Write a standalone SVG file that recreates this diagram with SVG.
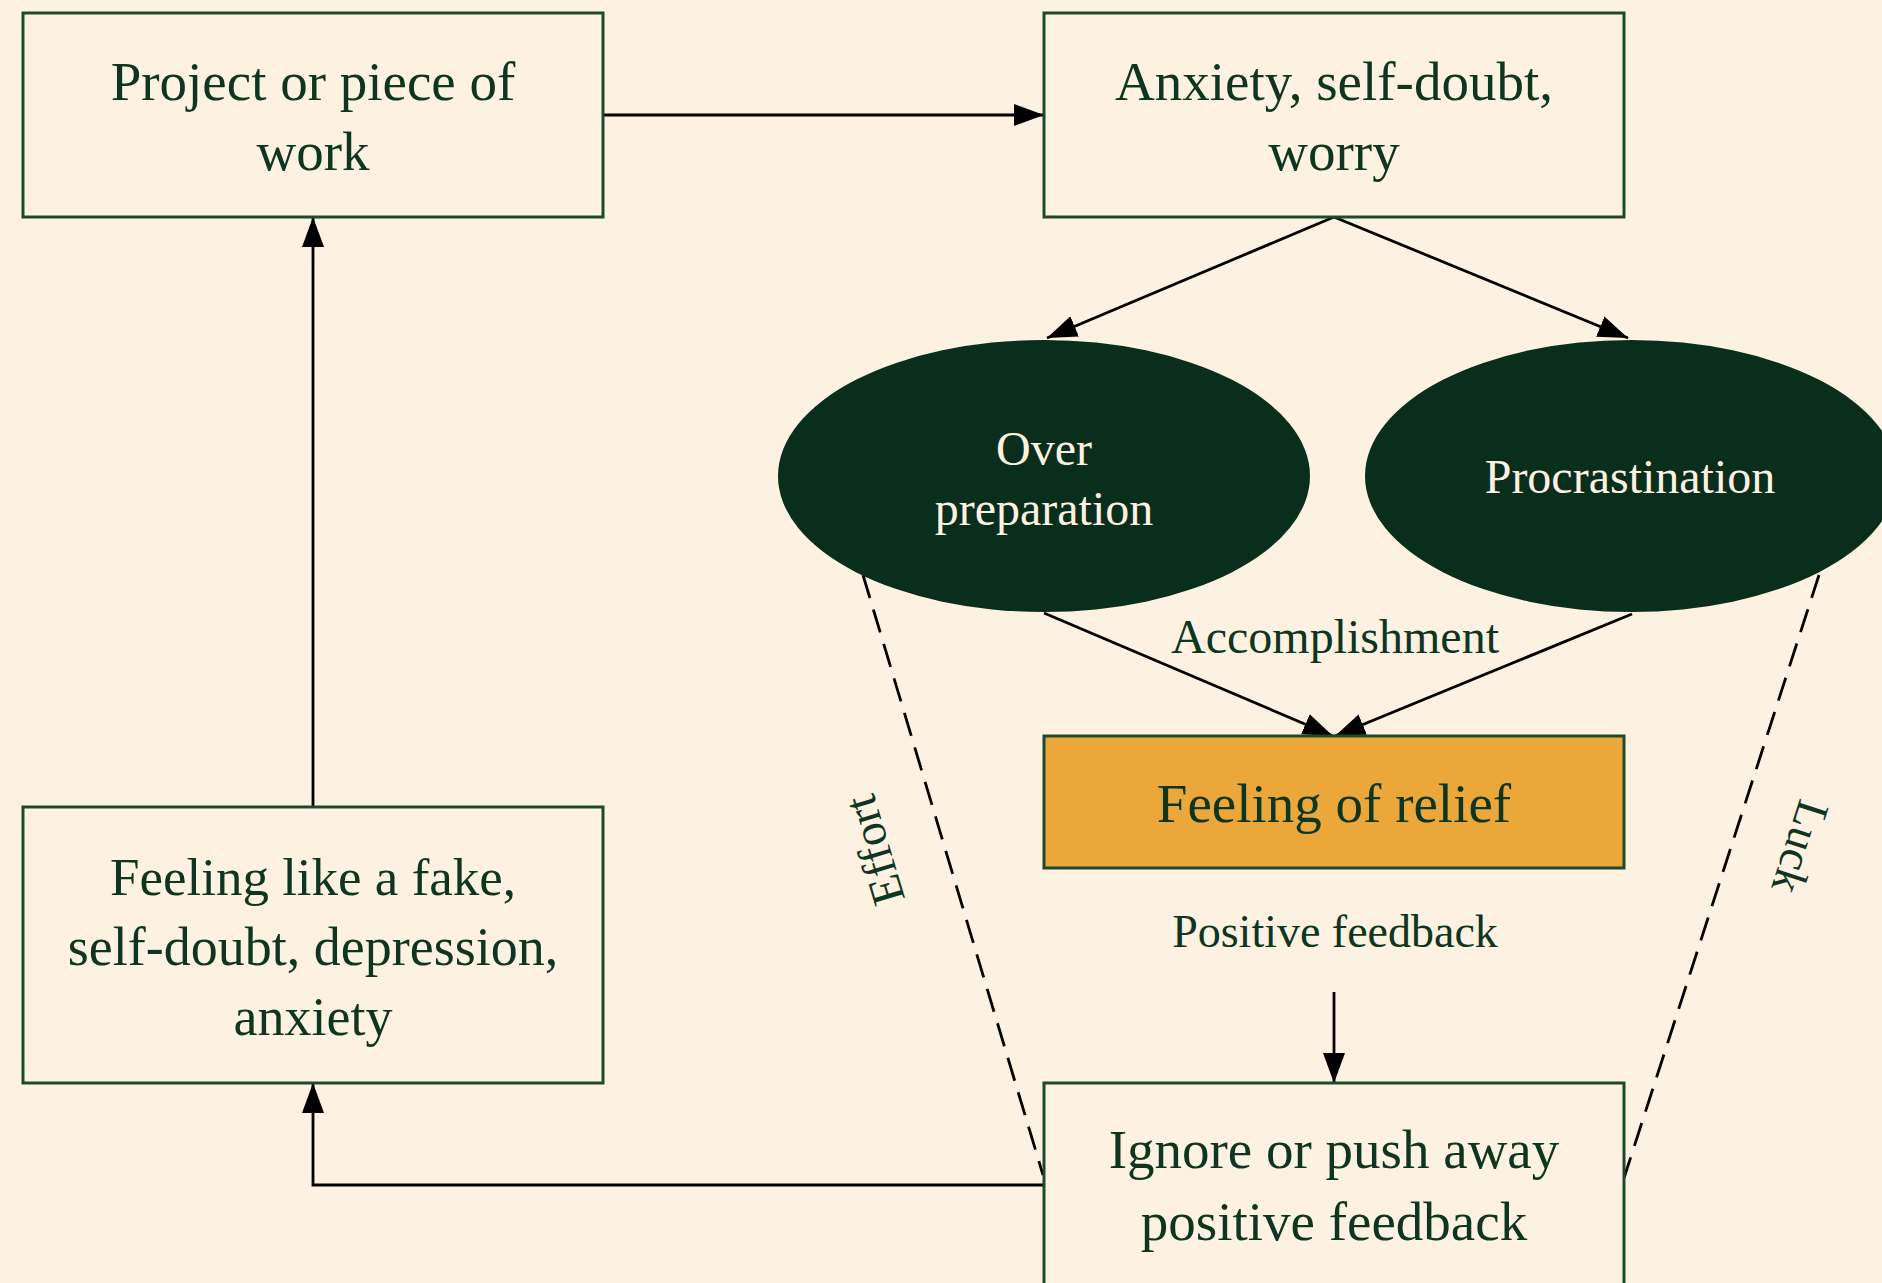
<svg xmlns="http://www.w3.org/2000/svg" width="1882" height="1283" viewBox="0 0 1882 1283">
<defs>
<style>
.bg{fill:#fdf1e2}
.box{fill:#fdf1e2;stroke:#1e4a2c;stroke-width:3}
.hl{fill:#eba73a;stroke:#1e4a2c;stroke-width:3}
.ell{fill:#0a2e1c}
.t{font-family:"Liberation Serif","Times New Roman",serif;fill:#0d3520;text-anchor:middle}
.tw{font-family:"Liberation Serif","Times New Roman",serif;fill:#fdf1e2;text-anchor:middle}
.edge{fill:none;stroke:#000;stroke-width:2.8}
.dash{fill:none;stroke:#000;stroke-width:2.8;stroke-dasharray:24 12}
</style>
<marker id="ah" markerUnits="userSpaceOnUse" markerWidth="30" markerHeight="22" refX="30" refY="11" orient="auto">
<path d="M0,0 L30,11 L0,22 z" fill="#000"/>
</marker>
</defs>
<rect class="bg" x="0" y="0" width="1882" height="1283"/>

<g id="connectors">
<line class="edge" x1="603" y1="115" x2="1044" y2="115" marker-end="url(#ah)"/>
<line class="edge" x1="1334" y1="217" x2="1047" y2="338" marker-end="url(#ah)"/>
<line class="edge" x1="1334" y1="217" x2="1628" y2="338" marker-end="url(#ah)"/>
<line class="edge" x1="1044" y1="613" x2="1333" y2="736" marker-end="url(#ah)"/>
<line class="edge" x1="1632" y1="614" x2="1335" y2="736" marker-end="url(#ah)"/>
<line class="edge" x1="1334" y1="992" x2="1334" y2="1083" marker-end="url(#ah)"/>
<polyline class="edge" points="1044,1185 313,1185 313,1083" marker-end="url(#ah)"/>
<line class="edge" x1="313" y1="807" x2="313" y2="217" marker-end="url(#ah)"/>
<line class="dash" x1="863" y1="575" x2="1043" y2="1175"/>
<line class="dash" x1="1819" y1="575" x2="1624" y2="1178"/>
<text class="t" font-size="48" x="1335" y="653">Accomplishment</text>
<text class="t" font-size="46" x="1335" y="947">Positive feedback</text>
<text class="t" font-size="47" transform="translate(875,850) rotate(-106.7)" x="0" y="15">Effort</text>
<text class="t" font-size="46" transform="translate(1800,847) rotate(108)" x="0" y="15">Luck</text>
</g>

<g id="project">
<rect class="box" x="23" y="13" width="580" height="204"/>
<text class="t" font-size="55" x="313" y="100">Project or piece of</text>
<text class="t" font-size="55" x="313" y="170">work</text>
</g>

<g id="anxiety">
<rect class="box" x="1044" y="13" width="580" height="204"/>
<text class="t" font-size="55" x="1334" y="100">Anxiety, self-doubt,</text>
<text class="t" font-size="55" x="1334" y="170">worry</text>
</g>

<g id="overprep">
<ellipse class="ell" cx="1044" cy="476" rx="266" ry="136"/>
<text class="tw" font-size="48" x="1044" y="465">Over</text>
<text class="tw" font-size="48" x="1044" y="525">preparation</text>
</g>

<g id="procrastination">
<ellipse class="ell" cx="1631" cy="476" rx="266" ry="136"/>
<text class="tw" font-size="48" x="1630" y="493">Procrastination</text>
</g>

<g id="relief">
<rect class="hl" x="1044" y="736" width="580" height="132"/>
<text class="t" font-size="55" x="1334" y="822">Feeling of relief</text>
</g>

<g id="fake">
<rect class="box" x="23" y="807" width="580" height="276"/>
<text class="t" font-size="53" x="313" y="895">Feeling like a fake,</text>
<text class="t" font-size="54" x="313" y="965">self-doubt, depression,</text>
<text class="t" font-size="54" x="313" y="1035">anxiety</text>
</g>

<g id="ignore">
<rect class="box" x="1044" y="1083" width="580" height="206"/>
<text class="t" font-size="55" x="1334" y="1168">Ignore or push away</text>
<text class="t" font-size="55" x="1334" y="1240">positive feedback</text>
</g>
</svg>
